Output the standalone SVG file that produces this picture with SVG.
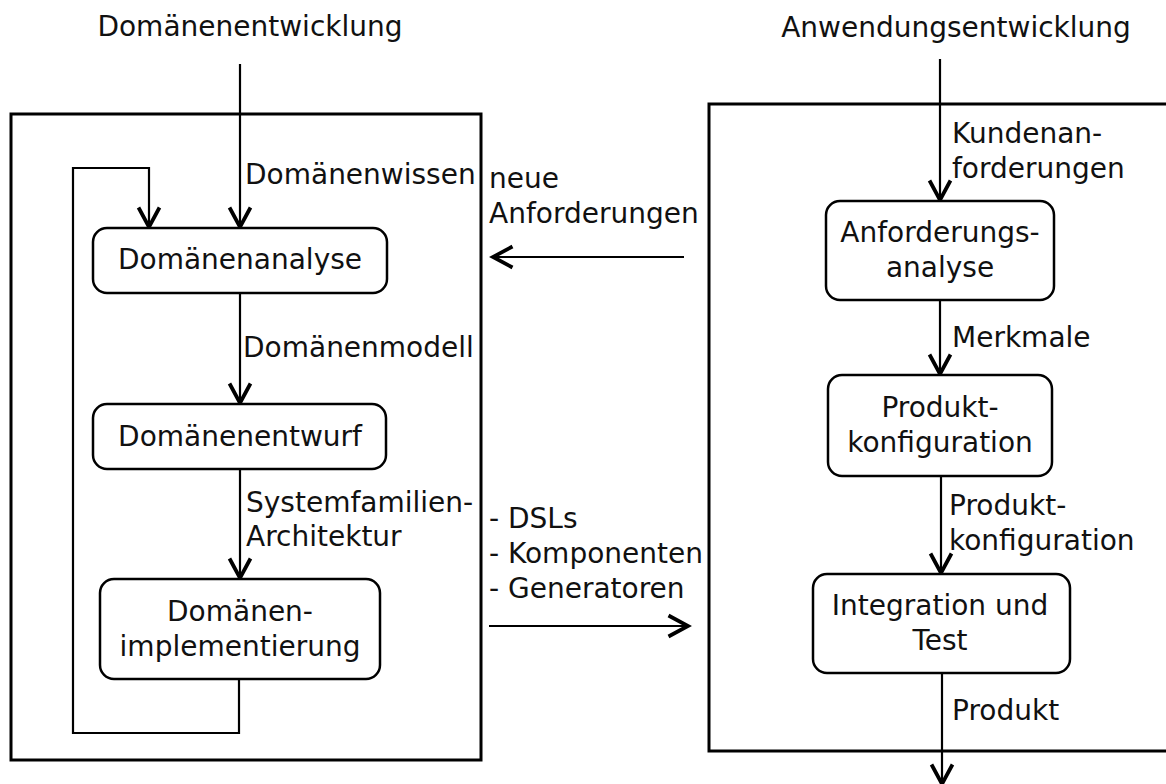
<svg xmlns="http://www.w3.org/2000/svg" width="1166" height="784" viewBox="0 0 1166 784">
<defs>
<style>
text{font-family:"DejaVu Sans","Liberation Sans",sans-serif;font-size:28px;fill:#111;}
.c{text-anchor:middle;}
.frame{fill:none;stroke:#000;stroke-width:3;}
.node{fill:#fff;stroke:#000;stroke-width:2.5;}
.edge{fill:none;stroke:#000;stroke-width:2.2;}
</style>
<marker id="ah" markerUnits="userSpaceOnUse" markerWidth="30" markerHeight="30" viewBox="-16 -10 20 20" refX="0" refY="0" orient="auto">
<path d="M-13,-7 L0,0 L-13,7" fill="none" stroke="#000" stroke-width="2.5"/>
</marker>
</defs>
<rect width="1166" height="784" fill="#fff"/>

<g id="frames">
<rect class="frame" x="11" y="114" width="470" height="646"/>
<rect class="frame" x="709" y="104" width="520" height="647"/>
</g>

<g id="titles">
<text class="c" x="250" y="36">Domänenentwicklung</text>
<text class="c" x="956" y="37">Anwendungsentwicklung</text>
</g>

<g id="connectors">
<path class="edge" d="M240,64 V227" marker-end="url(#ah)"/>
<path class="edge" d="M239,679 V733 H73 V168 H149 V227" marker-end="url(#ah)"/>
<path class="edge" d="M240,293 V403" marker-end="url(#ah)"/>
<path class="edge" d="M240,469 V578" marker-end="url(#ah)"/>
<path class="edge" d="M940,59 V200" marker-end="url(#ah)"/>
<path class="edge" d="M940,300 V374" marker-end="url(#ah)"/>
<path class="edge" d="M941,476 V573" marker-end="url(#ah)"/>
<path class="edge" d="M942,673 V784" marker-end="url(#ah)"/>
<path class="edge" d="M684,257 H493" marker-end="url(#ah)"/>
<path class="edge" d="M489,626 H688" marker-end="url(#ah)"/>
</g>

<g id="edge-labels">
<text x="245" y="184">Domänenwissen</text>
<text x="243" y="357">Domänenmodell</text>
<text x="246" y="512">Systemfamilien-</text>
<text x="246" y="546">Architektur</text>
<text x="952" y="143">Kundenan-</text>
<text x="952" y="178">forderungen</text>
<text x="952" y="347">Merkmale</text>
<text x="949" y="515">Produkt-</text>
<text x="949" y="550">konfiguration</text>
<text x="952" y="720">Produkt</text>
<text x="489" y="188">neue</text>
<text x="489" y="223">Anforderungen</text>
<text x="489" y="528">- DSLs</text>
<text x="489" y="563">- Komponenten</text>
<text x="489" y="598">- Generatoren</text>
</g>

<g id="n-domaenenanalyse">
<rect class="node" x="93" y="228" width="294" height="65" rx="14"/>
<text class="c" x="240" y="269">Domänenanalyse</text>
</g>
<g id="n-domaenenentwurf">
<rect class="node" x="93" y="404" width="293" height="65" rx="14"/>
<text class="c" x="240" y="446">Domänenentwurf</text>
</g>
<g id="n-domaenenimplementierung">
<rect class="node" x="100" y="579" width="280" height="100" rx="14"/>
<text class="c" x="240" y="621">Domänen-</text>
<text class="c" x="240" y="656">implementierung</text>
</g>
<g id="n-anforderungsanalyse">
<rect class="node" x="826" y="201" width="228" height="99" rx="14"/>
<text class="c" x="940" y="242">Anforderungs-</text>
<text class="c" x="940" y="277">analyse</text>
</g>
<g id="n-produktkonfiguration">
<rect class="node" x="828" y="375" width="224" height="101" rx="14"/>
<text class="c" x="940" y="417">Produkt-</text>
<text class="c" x="940" y="452">konfiguration</text>
</g>
<g id="n-integration">
<rect class="node" x="813" y="574" width="257" height="99" rx="14"/>
<text class="c" x="940" y="615">Integration und</text>
<text class="c" x="940" y="650">Test</text>
</g>
</svg>
